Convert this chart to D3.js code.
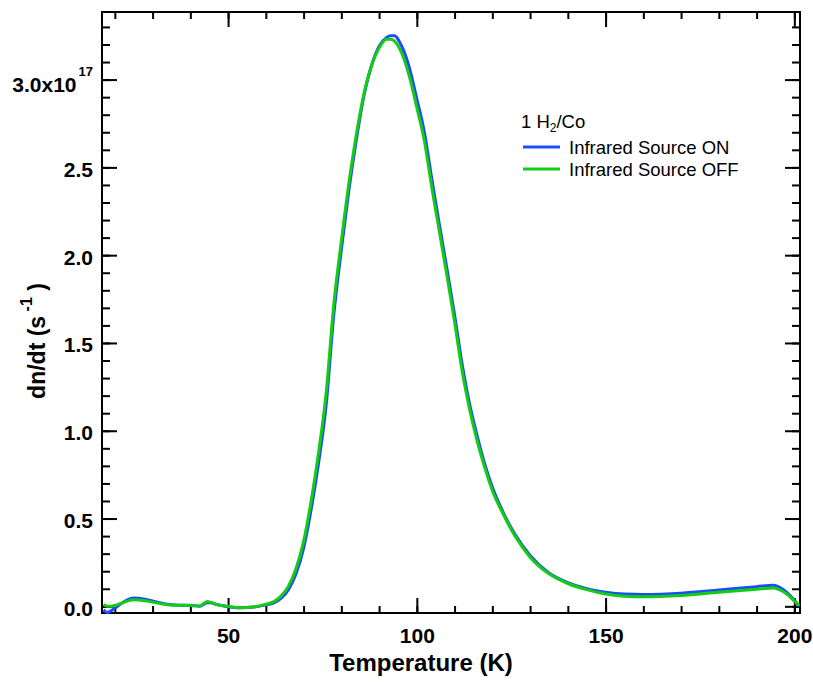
<!DOCTYPE html>
<html>
<head>
<meta charset="utf-8">
<script src="https://cdn.jsdelivr.net/npm/d3@7"></script>
<style>
  body { margin: 0; background: #fff; }
  text { font-family: "Liberation Sans", Arial, sans-serif; }
</style>
</head>
<body>
<div id="chart"></div>
<script>
var width  = 813;
var height = 684;

// temperature (K) and desorption rate (units of 1e17 s^-1)
var temperature = [17, 18, 20, 22, 25, 28, 30, 33, 36, 40, 42.5, 44.5, 45.5, 47, 50, 53, 57, 60, 62, 64,
  66, 68, 70, 72, 74, 76, 78, 80, 82, 84, 86, 88, 90, 92, 93, 94, 96, 98, 100, 102,
  104, 106, 108, 110, 112, 114, 116, 118, 120, 123, 126, 130, 135, 140, 145, 150, 155, 160, 170, 180,
  190, 194.5, 196, 198, 200, 201.3];
var sourceOn = [-0.02, -0.035, -0.01, 0.02, 0.047, 0.04, 0.03, 0.015, 0.008, 0.005, 0.0, 0.02, 0.02, 0.01, -0.002, -0.008, -0.004, 0.008, 0.018, 0.045,
  0.095, 0.185, 0.33, 0.55, 0.82, 1.15, 1.66, 2.03, 2.37, 2.66, 2.91, 3.08, 3.19, 3.24, 3.25, 3.25, 3.19, 3.07, 2.89, 2.70,
  2.43, 2.17, 1.92, 1.66, 1.38, 1.15, 0.97, 0.81, 0.68, 0.53, 0.41, 0.29, 0.19, 0.135, 0.10, 0.08, 0.07, 0.068, 0.075, 0.093,
  0.112, 0.12, 0.11, 0.08, 0.035, 0.0];
var sourceOff = [0.01, 0.0, 0.005, 0.02, 0.038, 0.032, 0.024, 0.012, 0.006, 0.006, 0.002, 0.028, 0.022, 0.01, 0.0, -0.008, -0.003, 0.012, 0.025, 0.058,
  0.115, 0.215, 0.37, 0.60, 0.88, 1.22, 1.72, 2.08, 2.41, 2.69, 2.92, 3.08, 3.18, 3.23, 3.23, 3.22, 3.15, 3.02, 2.84, 2.65,
  2.38, 2.13, 1.88, 1.62, 1.34, 1.12, 0.94, 0.79, 0.66, 0.52, 0.40, 0.28, 0.185, 0.13, 0.095, 0.07, 0.058, 0.054, 0.062, 0.08,
  0.097, 0.104, 0.095, 0.07, 0.03, 0.005];

var seriesNames = ["Infrared Source ON", "Infrared Source OFF"];
var seriesColors = ["#1a4dff", "#14cc14"];

var xMajor = [50, 100, 150, 200];
var xMinor = d3.range(20, 201, 10);
var yMajor = [0, 0.5, 1.0, 1.5, 2.0, 2.5, 3.0];
var yLabels = ["0.0", "0.5", "1.0", "1.5", "2.0", "2.5", "3.0"];
var yMinor = d3.range(0, 34).map(function(d) { return d / 10; });

var plotLeft = 102, plotRight = 800, plotTop = 12, plotBottom = 613;

var svg = d3.select("#chart").append("svg")
  .attr("width", width)
  .attr("height", height);

var x = d3.scaleLinear().domain([16.6, 201.5]).range([plotLeft, plotRight]);
var y = d3.scaleLinear().domain([-0.038, 3.385]).range([plotBottom, plotTop]);

// minor ticks on all four sides
function drawAxis(axisFn, scale, vals, size, tx, ty) {
  var g = svg.append("g")
    .attr("transform", "translate(" + tx + "," + ty + ")")
    .call(axisFn(scale).tickValues(vals).tickSize(size).tickFormat(""));
  g.select(".domain").remove();
  g.selectAll(".tick line").attr("stroke", "#000").attr("stroke-width", 2);
  return g;
}
drawAxis(d3.axisBottom, x, xMinor, -7, 0, plotBottom);
drawAxis(d3.axisTop, x, xMinor, -7, 0, plotTop);
drawAxis(d3.axisLeft, y, yMinor, -8, plotLeft, 0);
drawAxis(d3.axisRight, y, yMinor, -8, plotRight, 0);
drawAxis(d3.axisTop, x, xMajor, -15, 0, plotTop);
drawAxis(d3.axisRight, y, yMajor, -15, plotRight, 0);

// major ticks with labels
var xAxis = svg.append("g")
  .attr("transform", "translate(0," + plotBottom + ")")
  .call(d3.axisBottom(x).tickValues(xMajor).tickSize(-15).tickPadding(15).tickFormat(d3.format("d")));
xAxis.select(".domain").remove();
xAxis.selectAll(".tick line").attr("stroke", "#000").attr("stroke-width", 2);
xAxis.selectAll("text").attr("font-size", 21).attr("font-weight", "bold").attr("fill", "#000")
  .attr("font-family", "Liberation Sans, Arial, sans-serif");

var yAxis = svg.append("g")
  .attr("transform", "translate(" + plotLeft + ",0)")
  .call(d3.axisLeft(y).tickValues(yMajor).tickSize(-15).tickPadding(9)
    .tickFormat(function(d, i) { return yLabels[i]; }));
yAxis.select(".domain").remove();
yAxis.selectAll(".tick line").attr("stroke", "#000").attr("stroke-width", 2);
yAxis.selectAll("text").attr("font-size", 21).attr("font-weight", "bold").attr("fill", "#000")
  .attr("dy", "0.43em").attr("font-family", "Liberation Sans, Arial, sans-serif");

// top label carries the exponent
yAxis.selectAll("text").filter(function(d) { return d === 3.0; })
  .text(null)
  .attr("dy", "0.56em")
  .call(function(t) {
    t.append("tspan").text("3.0x10");
    t.append("tspan").attr("font-size", 13).attr("dy", "-1.2em").attr("dx", 2).text("17");
  });

// frame
svg.append("rect")
  .attr("x", plotLeft).attr("y", plotTop)
  .attr("width", plotRight - plotLeft).attr("height", plotBottom - plotTop)
  .attr("fill", "none").attr("stroke", "#000").attr("stroke-width", 2);

// curves
svg.append("clipPath").attr("id", "clip").append("rect")
  .attr("x", plotLeft).attr("y", plotTop)
  .attr("width", plotRight - plotLeft).attr("height", plotBottom - plotTop + 2);

var line = d3.line()
  .x(function(d) { return x(d[0]); })
  .y(function(d) { return y(d[1]); })
  .curve(d3.curveMonotoneX);

[sourceOn, sourceOff].forEach(function(vals, i) {
  svg.append("path")
    .datum(temperature.map(function(t, j) { return [t, vals[j]]; }))
    .attr("clip-path", "url(#clip)")
    .attr("fill", "none")
    .attr("stroke", seriesColors[i])
    .attr("stroke-width", 3)
    .attr("stroke-linejoin", "round")
    .attr("d", line);
});

// axis titles
svg.append("text")
  .attr("x", 421).attr("y", 671)
  .attr("text-anchor", "middle")
  .attr("font-size", 24).attr("font-weight", "bold")
  .text("Temperature (K)");

var yt = svg.append("text")
  .attr("transform", "translate(45,341) rotate(-90)")
  .attr("text-anchor", "middle")
  .attr("font-size", 23).attr("font-weight", "bold");
yt.append("tspan").text("dn/dt (s");
yt.append("tspan").attr("font-size", 16).attr("dy", "-0.8em").text(" -1");
yt.append("tspan").attr("dy", "0.55em").text(" )");

// legend
var legend = svg.append("g");
var lt = legend.append("text").attr("x", 521).attr("y", 128).attr("font-size", 18.5);
lt.append("tspan").text("1 H");
lt.append("tspan").attr("font-size", 12).attr("dy", 4).text("2");
lt.append("tspan").attr("dy", -4).text("/Co");

seriesNames.forEach(function(name, i) {
  var ly = 147 + i * 22;
  legend.append("line")
    .attr("x1", 523).attr("x2", 560)
    .attr("y1", ly).attr("y2", ly)
    .attr("stroke", seriesColors[i]).attr("stroke-width", 3);
  legend.append("text")
    .attr("x", 569).attr("y", ly + 6.5)
    .attr("font-size", 18.5)
    .text(name);
});
</script>
</body>
</html>
